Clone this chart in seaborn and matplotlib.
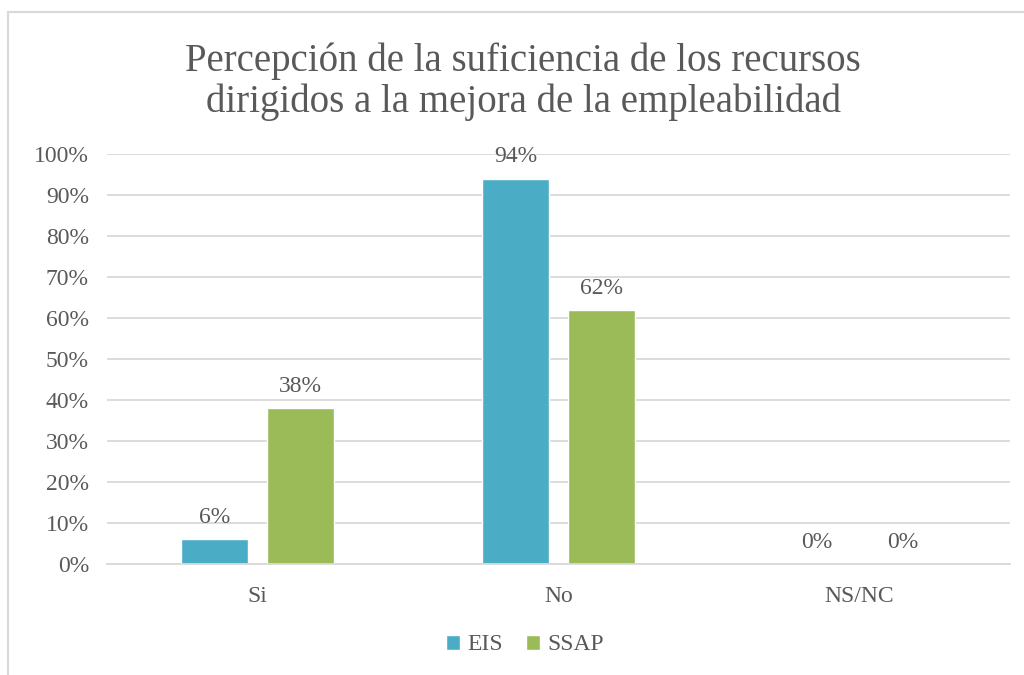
import pandas as pd
import matplotlib.pyplot as plt
import matplotlib.patches as mpatches
import seaborn as sns

categories = ['Si', 'No', 'NS/NC']
series_names = ['EIS', 'SSAP']
eis_values = [6, 94, 0]
ssap_values = [38, 62, 0]
y_ticks = [0, 10, 20, 30, 40, 50, 60, 70, 80, 90, 100]

title = 'Percepción de la suficiencia de los recursos\ndirigidos a la mejora de la empleabilidad'
colors = {'EIS': '#4BACC6', 'SSAP': '#9BBB59'}
text_color = '#595959'
grid_color = '#D9D9D9'

df = pd.DataFrame({
    'categoria': categories * 2,
    'serie': ['EIS'] * len(categories) + ['SSAP'] * len(categories),
    'valor': eis_values + ssap_values,
})

sns.set_style('white')
plt.rcParams['font.family'] = ['Liberation Serif', 'DejaVu Serif']

fig = plt.figure(figsize=(10.24, 6.75), dpi=100)
ax = fig.add_axes([107 / 1024, 1 - 564 / 675, 903 / 1024, 410 / 675])

sns.barplot(data=df, x='categoria', y='valor', hue='serie', palette=colors,
            width=0.57, gap=0.21, ax=ax, saturation=1)

ax.set_xlim(-0.5, 2.5)
ax.set_ylim(0, 100)
ax.set_yticks(y_ticks)
ax.set_yticklabels([f'{t}%' for t in y_ticks])
ax.yaxis.grid(True, color=grid_color, linewidth=1.3)
ax.set_axisbelow(True)
for side in ['top', 'right', 'left']:
    ax.spines[side].set_visible(False)
ax.spines['bottom'].set_color(grid_color)
ax.spines['bottom'].set_linewidth(1.3)
ax.tick_params(axis='both', length=0, labelsize=17, labelcolor=text_color)
ax.tick_params(axis='y', pad=13)
ax.tick_params(axis='x', pad=16)
ax.set_xlabel('')
ax.set_ylabel('')

for container in ax.containers:
    ax.bar_label(container, labels=[f'{v:.0f}%' for v in container.datavalues],
                 padding=8, fontsize=17, color=text_color)

fig.suptitle(title, x=523 / 1024, y=1 - 42 / 675, fontsize=28,
             color=text_color, linespacing=1.13)

leg = ax.legend(loc='center', bbox_to_anchor=(525 / 1024, 1 - 645 / 675),
                bbox_transform=fig.transFigure, ncol=2, frameon=False,
                fontsize=17, handlelength=0.6, handleheight=0.6,
                handletextpad=0.3, columnspacing=1.0)
for t in leg.get_texts():
    t.set_color(text_color)

frame = mpatches.Rectangle((8 / 1024, -0.1), 1.1, 1 - 12 / 675 + 0.1,
                           transform=fig.transFigure, fill=False,
                           edgecolor=grid_color, linewidth=1.5)
fig.patches.append(frame)

fig.savefig('out.png', dpi=100)
